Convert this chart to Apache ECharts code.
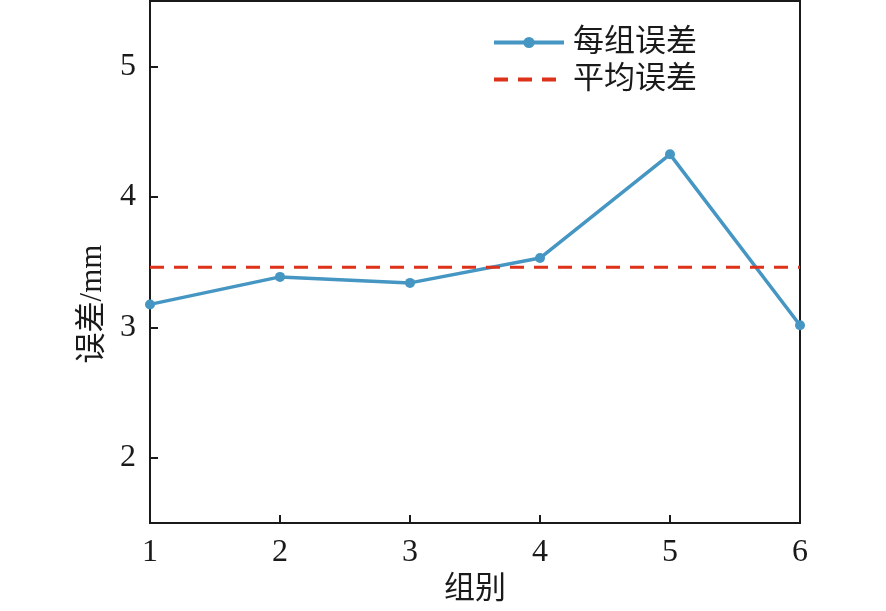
<!DOCTYPE html>
<html>
  <head>
    <meta charset="utf-8">
    <title>误差</title>
    <script type="text/javascript" src="https://cdn.jsdelivr.net/npm/echarts@6/dist/echarts.min.js"></script>
    <style>
      html, body { margin: 0; padding: 0; background: #fff; }
      #chart { width: 886px; height: 611px; }
    </style>
  </head>
  <body>
    <div id="chart"></div>
    <script type="text/javascript">
      // data
      var groups = [1, 2, 3, 4, 5, 6];
      var groupError = [3.175, 3.386, 3.34, 3.53, 4.325, 3.015];
      var meanError = 3.46;
      var yTicks = [2, 3, 4, 5];
      var xTicks = [2, 3, 4, 5];

      var fontFam = '"Liberation Serif", "Noto Sans CJK SC", serif';

      var lineData = [];
      for (var i = 0; i < groups.length; i++) {
        lineData.push([groups[i], groupError[i]]);
      }
      var meanData = [[groups[0], meanError], [groups[groups.length - 1], meanError]];

      var myChart = echarts.init(document.getElementById('chart'));
      myChart.setOption({
        animation: false,
        backgroundColor: '#fff',
        grid: {
          left: 150, right: 86, top: 1, bottom: 88,
          show: true, borderColor: '#1a1a1a', borderWidth: 2
        },
        legend: {
          left: 487, top: 22,
          orient: 'vertical',
          itemWidth: 70, itemHeight: 14, itemGap: 6,
          lineStyle: { width: 4 },
          textStyle: { fontFamily: fontFam, fontSize: 31, color: '#1a1a1a', padding: [0, 0, 0, 4] },
          data: [
            { name: '每组误差' },
            { name: '平均误差', itemStyle: { opacity: 0 } }
          ]
        },
        xAxis: {
          type: 'value', min: 1, max: 6, interval: 1,
          name: '组别', nameLocation: 'middle', nameGap: 46,
          nameTextStyle: { fontFamily: fontFam, fontSize: 31, color: '#1a1a1a' },
          axisLine: { lineStyle: { color: '#1a1a1a', width: 2 } },
          axisTick: { inside: true, length: 8, customValues: xTicks, lineStyle: { color: '#1a1a1a', width: 2 } },
          axisLabel: { fontFamily: fontFam, fontSize: 32, color: '#1a1a1a', margin: 14 },
          splitLine: { show: false }
        },
        yAxis: {
          type: 'value', min: 1.5, max: 5.5,
          name: '误差/mm', nameLocation: 'middle', nameGap: 42,
          nameTextStyle: { fontFamily: fontFam, fontSize: 31, color: '#1a1a1a', padding: [0, 84, 0, 0] },
          axisLine: { lineStyle: { color: '#1a1a1a', width: 2 } },
          axisTick: { inside: true, length: 8, customValues: yTicks, lineStyle: { color: '#1a1a1a', width: 2 } },
          axisLabel: { fontFamily: fontFam, fontSize: 32, color: '#1a1a1a', margin: 14, customValues: yTicks },
          splitLine: { show: false }
        },
        series: [
          {
            name: '每组误差',
            type: 'line',
            data: lineData,
            symbol: 'circle', symbolSize: 10,
            color: '#4596c3',
            lineStyle: { width: 3.5, color: '#4596c3' },
            itemStyle: { color: '#4596c3' }
          },
          {
            name: '平均误差',
            type: 'line',
            data: meanData,
            symbol: 'none',
            color: '#dd3219',
            lineStyle: { width: 3, type: [14, 10], color: '#dd3219' }
          }
        ]
      });
    </script>
  </body>
</html>
